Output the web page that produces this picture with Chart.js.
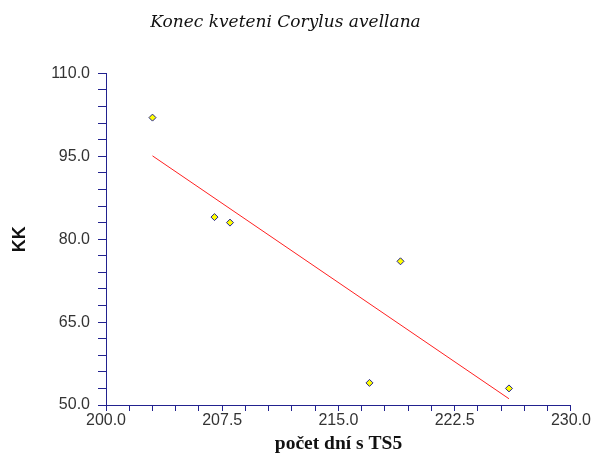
<!DOCTYPE html>
<html>
<head>
<meta charset="utf-8">
<script src="https://cdn.jsdelivr.net/npm/chart.js@4/dist/chart.umd.min.js"></script>
<style>
  html, body { margin: 0; padding: 0; background: #fff; }
  #wrap { width: 592px; height: 455px; }
</style>
</head>
<body>
<div id="wrap"><canvas id="kkChart" width="592" height="455"></canvas></div>
<script>
// pocet dni s TS5 vs KK
const dnyTS5 = [203, 207, 208, 217, 219, 226];
const kkValues = [102, 84, 83, 54, 76, 53];

const xMin = 200, xMax = 230, xStep = 1.5, xLabelStep = 7.5;
const yMin = 50, yMax = 110, yStep = 3, yLabelStep = 15;

const axisBlue = '#22228f';

// least squares fit for the trend line
function fitLine(xs, ys) {
  const n = xs.length;
  const mx = xs.reduce((a, b) => a + b, 0) / n;
  const my = ys.reduce((a, b) => a + b, 0) / n;
  let sxy = 0, sxx = 0;
  for (let i = 0; i < n; i++) {
    sxy += (xs[i] - mx) * (ys[i] - my);
    sxx += (xs[i] - mx) * (xs[i] - mx);
  }
  const k = sxy / sxx;
  return x => my + k * (x - mx);
}
const trend = fitLine(dnyTS5, kkValues);
const xFirst = Math.min(...dnyTS5), xLast = Math.max(...dnyTS5);

// labelled ticks sit every labelStep counted from the axis minimum
const isMajor = (v, min, step) => {
  const r = (v - min) / step;
  return Math.abs(r - Math.round(r)) < 1e-6;
};

const ctx = document.getElementById('kkChart').getContext('2d');
const chart = new Chart(ctx, {
  data: {
    datasets: [{
      type: 'line',
      label: 'trend',
      data: [{ x: xFirst, y: trend(xFirst) }, { x: xLast, y: trend(xLast) }],
      borderColor: '#ff2020',
      borderWidth: 1,
      pointRadius: 0,
      fill: false
    }, {
      type: 'scatter',
      label: 'KK',
      data: dnyTS5.map((x, i) => ({ x: x, y: kkValues[i] })),
      pointStyle: 'rectRot',
      pointRadius: 3.5,
      backgroundColor: '#ffff00',
      borderColor: axisBlue,
      borderWidth: 1
    }]
  },
  options: {
    responsive: false,
    animation: false,
    layout: { padding: { left: 0, right: 21, top: 0, bottom: 0 } },
    plugins: {
      legend: { display: false },
      tooltip: { enabled: false },
      title: {
        display: true,
        text: 'Konec kveteni Corylus avellana',
        color: '#111',
        font: { family: 'DejaVu Serif', size: 17, style: 'italic', weight: 'normal', lineHeight: 1.2 },
        padding: { top: 12, bottom: 41 }
      }
    },
    scales: {
      x: {
        type: 'linear',
        min: xMin,
        max: xMax,
        grid: { display: true, drawOnChartArea: false, drawTicks: true, tickLength: 6, color: axisBlue },
        border: { display: true, color: axisBlue, width: 1 },
        ticks: {
          stepSize: xStep,
          autoSkip: false,
          maxRotation: 0,
          padding: 1,
          color: '#333',
          font: { family: 'Liberation Sans', size: 16, lineHeight: 1.1 },
          callback: v => isMajor(v, xMin, xLabelStep) ? v.toFixed(1) : ''
        },
        title: {
          display: true,
          text: 'počet dní s TS5',
          color: '#111',
          font: { family: 'Liberation Serif', size: 19.5, weight: 'bold', lineHeight: 1.1 },
          padding: { top: 5, bottom: 0 }
        },
        afterFit: scale => { scale.height = 50; }
      },
      y: {
        type: 'linear',
        min: yMin,
        max: yMax,
        grid: { display: true, drawOnChartArea: false, drawTicks: true, tickLength: 8, color: axisBlue },
        border: { display: true, color: axisBlue, width: 1 },
        ticks: {
          stepSize: yStep,
          autoSkip: false,
          padding: 8,
          color: '#333',
          font: { family: 'Liberation Sans', size: 16 },
          callback: v => isMajor(v, yMin, yLabelStep) ? v.toFixed(1) : ''
        },
        title: {
          display: true,
          text: 'KK',
          color: '#111',
          font: { family: 'Liberation Sans', size: 18, weight: 'bold', lineHeight: 1.2 },
          padding: { top: 9, bottom: 20 }
        },
        afterFit: scale => { scale.width = 106; }
      }
    }
  }
});
</script>
</body>
</html>
